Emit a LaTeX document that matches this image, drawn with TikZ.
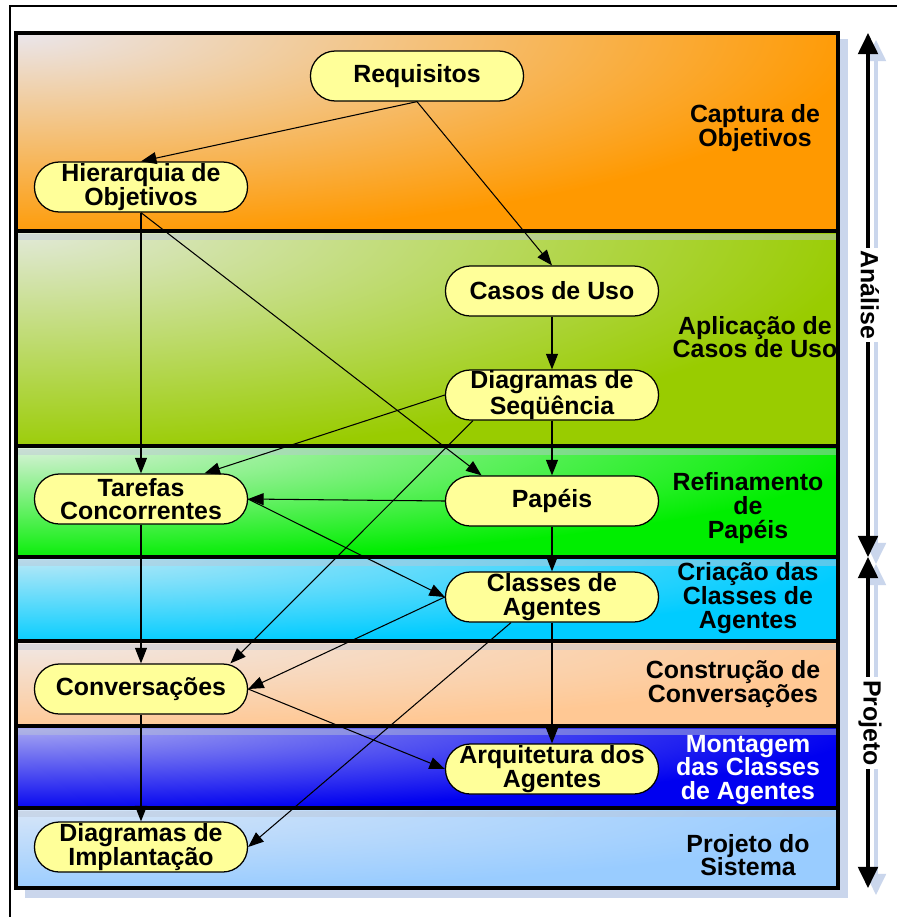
\documentclass[tikz,border=0pt]{standalone}
\usepackage{fontspec}
\setmainfont{Liberation Sans}
\usepackage{tikz}
\usetikzlibrary{arrows.meta}
\definecolor{capLight}{HTML}{EAE6EC}
\definecolor{capStrong}{HTML}{FF9900}
\definecolor{aplLight}{HTML}{E2E9DA}
\definecolor{aplStrong}{HTML}{99CC00}
\definecolor{refLight}{HTML}{DCF2DC}
\definecolor{refStrong}{HTML}{00EE00}
\definecolor{criLight}{HTML}{BDE9F7}
\definecolor{criStrong}{HTML}{00CCFF}
\definecolor{conLight}{HTML}{F0E8E6}
\definecolor{conStrong}{HTML}{FFC894}
\definecolor{monLight}{HTML}{ABABF2}
\definecolor{monStrong}{HTML}{0000F0}
\definecolor{proLight}{HTML}{D8E6F8}
\definecolor{proStrong}{HTML}{99CCFF}
\definecolor{taskyellow}{HTML}{FFFF99}
\definecolor{shadowblue}{HTML}{CAD6EC}

% one phase band: top, bottom, light colour, strong colour
\newcommand{\phaseband}[4]{%
  \begin{scope}
    \clip (16,#1) rectangle (838,#2);
    \fill[#4] (16,#1) rectangle (838,#2);
    \shade[inner color=#3, outer color=#4] (16,#1)
        ellipse [x radius=850, y radius={1.05*(#2-#1)}];
  \end{scope}
  \draw[line width=3pt] (16,#1) rectangle (838,#2);}

\begin{document}
\begin{tikzpicture}[
    x=0.025cm, y=-0.025cm,
    >={Triangle[length=11pt,width=8.5pt]},
    strip/.style={fill=shadowblue!80!gray, opacity=0.45},
    task/.style={draw, fill=taskyellow, rounded corners=0.62cm, line width=0.9pt,
                 minimum width=5.325cm, minimum height=1.25cm, inner sep=0pt,
                 align=center, font=\bfseries\fontsize{17.7}{16.8}\selectfont},
    phase/.style={align=center, font=\bfseries\fontsize{17.7}{16.8}\selectfont},
    arrow/.style={->, line width=0.75pt},
    bigarrow/.style={{Triangle[length=15pt,width=14pt]}-{Triangle[length=15pt,width=14pt]},
                     line width=2.2pt},
]
\useasboundingbox[fill=white] (0,0) rectangle (897,917);

% frame
\draw[line width=1.4pt] (10,917) -- (10,6) -- (897,6);

% shadow of the bands
\fill[shadowblue] (25,39) rectangle (848,898);

% bands
\phaseband{33}{231}{capLight}{capStrong}
\phaseband{231}{446}{aplLight}{aplStrong}
\phaseband{446}{557}{refLight}{refStrong}
\phaseband{557}{641}{criLight}{criStrong}
\phaseband{641}{726}{conLight}{conStrong}
\phaseband{726}{808}{monLight}{monStrong}
\phaseband{808}{888}{proLight}{proStrong}
\fill[strip] (18,234) rectangle (836,240);
\fill[strip] (18,449) rectangle (836,455);
\fill[strip] (18,560) rectangle (836,566);
\fill[strip] (18,644) rectangle (836,650);
\fill[strip] (18,729) rectangle (836,735);
\fill[strip] (18,811) rectangle (836,817);

% phase labels
\node[phase] (lblCaptura) at (755,128) {Captura de\\Objetivos};
\node[phase] (lblAplicacao) at (755,337) {Aplicação de\\Casos de Uso};
\node[phase] (lblRefinamento) at (748,508) {Refinamento\\de\\Papéis};
\node[phase] (lblCriacao) at (748,598) {Criação das\\Classes de\\Agentes};
\node[phase] (lblConstrucao) at (733,684) {Construção de\\Conversações};
\node[phase, color=white] (lblMontagem) at (748,770) {Montagem\\das Classes\\de Agentes};
\node[phase] (lblProjeto) at (748,855) {Projeto do\\Sistema};

% models
\node[task] (req) at (417,76) {Requisitos};
\node[task] (hier) at (141,187) {Hierarquia de\\Objetivos};
\node[task] (casos) at (552,291) {Casos de Uso};
\node[task] (seq) at (552,395) {Diagramas de\\Seqüência};
\node[task] (tar) at (141,499) {Tarefas\\Concorrentes};
\node[task] (pap) at (552,501) {Papéis};
\node[task] (cls) at (552,597) {Classes de\\Agentes};
\node[task] (conv) at (141,689) {Conversações};
\node[task] (arq) at (552,769) {Arquitetura dos\\Agentes};
\node[task] (impl) at (141,847) {Diagramas de\\Implantação};

% Arrows between models
\draw[arrow] (req.south) -- (hier.north);
\draw[arrow] (req.south) -- (casos.north);
\draw[arrow] (hier.south) -- (tar.north);
\draw[arrow] (hier.south) -- (pap.160);
\draw[arrow] (casos.south) -- (seq.north);
\draw[arrow] (seq.west) -- (tar.22);
\draw[arrow] (seq.198) -- (conv.16);
\draw[arrow] (seq.south) -- (pap.north);
\draw[arrow] (pap.west) -- (tar.east);
\draw[arrow] (tar.east) -- (cls.west);
\draw[arrow] (pap.south) -- (cls.north);
\draw[arrow] (tar.south) -- (conv.north);
\draw[arrow] (cls.west) -- (conv.east);
\draw[arrow] (cls.212) -- (impl.east);
\draw[arrow] (cls.south) -- (arq.north);
\draw[arrow] (conv.east) -- (arq.west);
\draw[arrow] (conv.south) -- (impl.north);

% Analise / Projeto
\coordinate (anTop) at (868,33);
\coordinate (anBot) at (868,557);
\coordinate (pjBot) at (868,888);
\draw[bigarrow, shadowblue, transform canvas={shift={(8,7)}}] (anTop) -- (anBot);
\draw[bigarrow, shadowblue, transform canvas={shift={(8,7)}}] (anBot) -- (pjBot);
\draw[bigarrow] (anTop) -- (anBot);
\draw[bigarrow] (anBot) -- (pjBot);
\node[phase, rotate=-90, fill=white, inner sep=2pt, minimum height=24pt] (lblAnalise) at (870,295) {Análise};
\node[phase, rotate=-90, fill=white, inner sep=2pt, minimum height=24pt] (lblProjetoPhase) at (870,723) {Projeto};

\end{tikzpicture}
\end{document}
